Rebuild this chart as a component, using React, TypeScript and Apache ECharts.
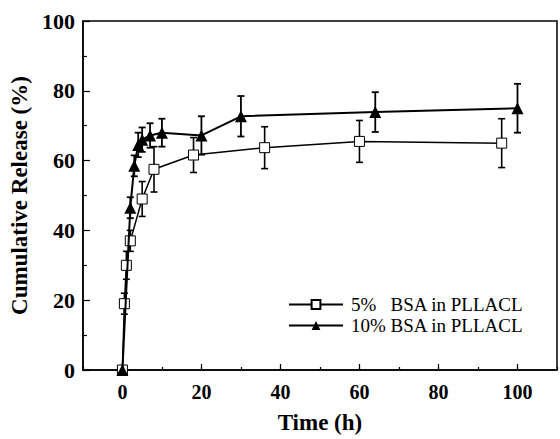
import React, { useEffect, useRef } from "react";
import * as echarts from "echarts";

const timeA = [0, 0.5, 1, 2, 5, 8, 18, 36, 60, 96];
const releaseA = [0, 19, 30, 37, 49, 57.5, 61.6, 63.7, 65.5, 65];
const errA = [0, 3, 4, 3, 5, 6.5, 5, 6, 6, 7];

const timeB = [0, 2, 3, 4, 5, 7, 10, 20, 30, 64, 100];
const releaseB = [0, 46.5, 58.5, 64.5, 66, 67.2, 68, 67.2, 72.7, 73.9, 75];
const errB = [0, 3, 3, 3.5, 3.5, 3.5, 4, 5.5, 5.8, 5.7, 7];

const nameA = "5%\u00a0\u00a0\u00a0BSA in PLLACL";
const nameB = "10% BSA in PLLACL";
const majorX = [0, 20, 40, 60, 80, 100];

const FONT = "Liberation Serif, Times New Roman, serif";

function errorSeries(times: number[], vals: number[], errs: number[], lw: number) {
  return {
    type: "custom",
    silent: true,
    z: 1,
    data: times.map((t, i) => [t, vals[i], errs[i]]),
    renderItem: (params: any, api: any) => {
      const x = api.value(0);
      const y = api.value(1);
      const e = api.value(2);
      if (!e) return null;
      const top = api.coord([x, y + e]);
      const bot = api.coord([x, y - e]);
      const hw = 3.5;
      const style = { stroke: "#000", lineWidth: lw };
      return {
        type: "group",
        children: [
          { type: "line", shape: { x1: top[0], y1: top[1], x2: bot[0], y2: bot[1] }, style },
          { type: "line", shape: { x1: top[0] - hw, y1: top[1], x2: top[0] + hw, y2: top[1] }, style },
          { type: "line", shape: { x1: bot[0] - hw, y1: bot[1], x2: bot[0] + hw, y2: bot[1] }, style },
        ],
      };
    },
  };
}

export default function App() {
  const ref = useRef<HTMLDivElement>(null);
  useEffect(() => {
    if (!ref.current) return;
    const chart = echarts.init(ref.current, null, { renderer: "svg" });
    chart.setOption({
      animation: false,
      backgroundColor: "#fff",
      textStyle: { fontFamily: FONT },
      grid: {
        left: 80,
        right: 0,
        top: 21,
        bottom: 61,
        show: true,
        borderColor: "#000",
        borderWidth: 1.5,
        backgroundColor: "transparent",
      },
      legend: {
        orient: "vertical",
        left: 283,
        top: 290,
        itemWidth: 54,
        itemHeight: 11,
        itemGap: 2,
        textStyle: { fontFamily: FONT, fontSize: 19, color: "#000", padding: [0, 0, 0, 3] },
        data: [nameA, nameB],
      },
      xAxis: [
        {
          type: "value",
          min: -10,
          max: 110,
          interval: 10,
          name: "Time (h)",
          nameLocation: "middle",
          nameGap: 41,
          nameTextStyle: { fontFamily: FONT, fontSize: 23, fontWeight: "bold", color: "#000" },
          axisLine: { show: true, onZero: false, lineStyle: { color: "#000", width: 1.5 } },
          axisTick: { show: true, inside: true, length: 3, lineStyle: { color: "#000", width: 1.2 } },
          axisLabel: {
            margin: 12,
            fontFamily: FONT,
            fontSize: 20,
            fontWeight: "bold",
            color: "#000",
            formatter: (v: number) => (v >= 0 && v <= 100 && v % 20 === 0 ? String(v) : ""),
          },
          splitLine: { show: false },
        },
        {
          type: "value",
          position: "bottom",
          min: -10,
          max: 110,
          axisLine: { show: false, onZero: false },
          axisTick: {
            show: true,
            inside: true,
            length: 6,
            customValues: majorX,
            lineStyle: { color: "#000", width: 1.2 },
          },
          axisLabel: { show: false },
          splitLine: { show: false },
        },
      ],
      yAxis: {
        type: "value",
        min: 0,
        max: 100,
        interval: 20,
        name: "Cumulative Release (%)",
        nameLocation: "middle",
        nameGap: 48,
        nameTextStyle: { fontFamily: FONT, fontSize: 23, fontWeight: "bold", color: "#000" },
        axisLine: { show: true, onZero: false, lineStyle: { color: "#000", width: 1.5 } },
        axisTick: { show: true, inside: true, length: 7, lineStyle: { color: "#000", width: 1.2 } },
        minorTick: { show: true, splitNumber: 2, length: 4, lineStyle: { color: "#000", width: 1.2 } },
        axisLabel: { margin: 8, fontFamily: FONT, fontSize: 22, fontWeight: "bold", color: "#000" },
        splitLine: { show: false },
      },
      series: [
        errorSeries(timeA, releaseA, errA, 1.6),
        errorSeries(timeB, releaseB, errB, 1.8),
        {
          name: nameA,
          type: "line",
          z: 3,
          data: timeA.map((t, i) => [t, releaseA[i]]),
          symbol: "rect",
          symbolSize: 10,
          lineStyle: { color: "#000", width: 1.5 },
          itemStyle: { color: "#fff", borderColor: "#000", borderWidth: 1 },
        },
        {
          name: nameB,
          type: "line",
          z: 4,
          data: timeB.map((t, i) => [t, releaseB[i]]),
          symbol: "triangle",
          symbolSize: 12,
          lineStyle: { color: "#000", width: 2 },
          itemStyle: { color: "#000", borderColor: "#000", borderWidth: 0 },
        },
      ],
    });
    return () => chart.dispose();
  }, []);
  return (
    <div
      ref={ref}
      style={{ position: "absolute", left: 0, top: 0, width: 560, height: 439 }}
    />
  );
}
